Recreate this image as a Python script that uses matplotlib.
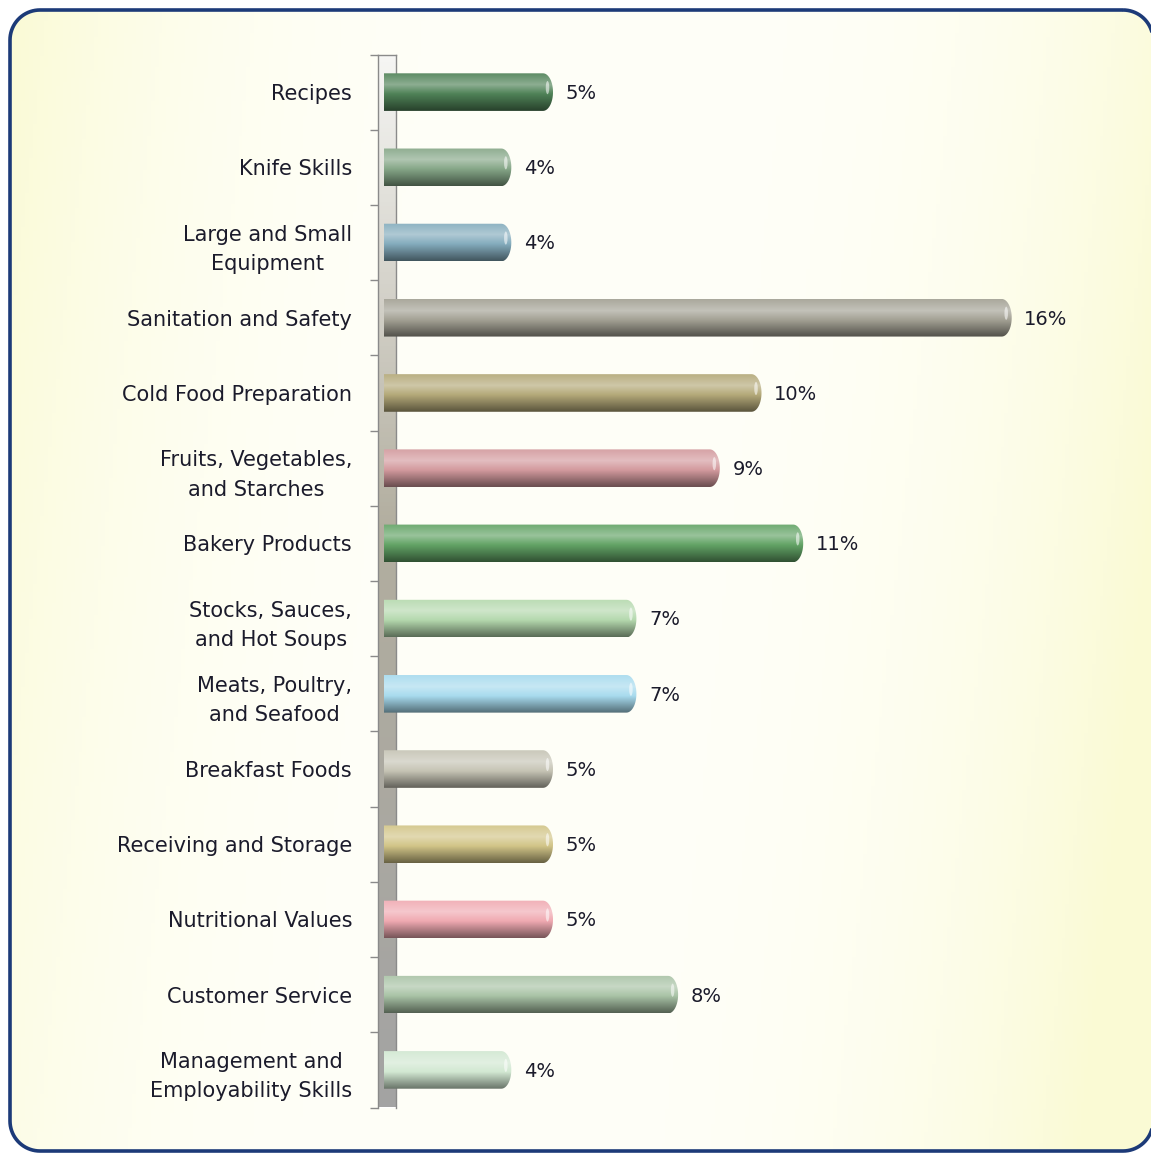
import numpy as np
import matplotlib.pyplot as plt
from matplotlib.path import Path
from matplotlib.patches import PathPatch, Ellipse
from matplotlib.colors import to_rgb

categories = [
    "Recipes",
    "Knife Skills",
    "Large and Small\nEquipment",
    "Sanitation and Safety",
    "Cold Food Preparation",
    "Fruits, Vegetables,\nand Starches",
    "Bakery Products",
    "Stocks, Sauces,\nand Hot Soups",
    "Meats, Poultry,\nand Seafood",
    "Breakfast Foods",
    "Receiving and Storage",
    "Nutritional Values",
    "Customer Service",
    "Management and\nEmployability Skills",
]
values = [5, 4, 4, 16, 10, 9, 11, 7, 7, 5, 5, 5, 8, 4]
bar_colors = [
    "#4f8257", "#86a788", "#84acbd", "#a3a194", "#b4a979", "#d39a9e", "#62a365",
    "#b5d9ae", "#a8dbee", "#c6c4b5", "#d2c588", "#f0aab2", "#a9c3a6", "#d2e8d2",
]

W, H = 1151, 1153
fig = plt.figure(figsize=(W / 100, H / 100), dpi=100)


def rounded_rect(x0, y0, x1, y1, rad):
    # rounded rectangle in pixel coords (y down)
    verts = []
    corners = [(x1 - rad, y0 + rad, -90, 0), (x1 - rad, y1 - rad, 0, 90),
               (x0 + rad, y1 - rad, 90, 180), (x0 + rad, y0 + rad, 180, 270)]
    for cx, cy, a0, a1 in corners:
        for a in np.radians(np.linspace(a0, a1, 20)):
            verts.append((cx + rad * np.cos(a), cy + rad * np.sin(a)))
    verts.append(verts[0])
    codes = [Path.MOVETO] + [Path.LINETO] * (len(verts) - 2) + [Path.CLOSEPOLY]
    return Path(verts, codes)


# background with rounded border
bg = fig.add_axes([0, 0, 1, 1])
bg.axis("off")
gx = np.linspace(0, 1, 300)
gy = np.linspace(0, 1, 300)
GX, GY = np.meshgrid(gx, gy)
yel = np.array(to_rgb("#fafad4"))
wht = np.array(to_rgb("#fffff8"))
t = np.clip(np.abs((GX * 0.9 + GY * 0.1) - 0.47) * 2.1, 0, 1) ** 3
img = wht[None, None, :] * (1 - t[..., None]) + yel[None, None, :] * t[..., None]
im = bg.imshow(img, extent=(10, 1153, 1151, 10), aspect="auto", zorder=1)
frame = PathPatch(rounded_rect(10, 10, 1153, 1151, 30), facecolor="none",
                  edgecolor="#1c3a78", lw=2.6, zorder=5)
bg.add_patch(frame)
im.set_clip_path(frame)
bg.set_xlim(0, W)
bg.set_ylim(H, 0)

# geometry
px_per = 41.7
ax_left_px, ax_right_px = 384, 1100
top_px, bot_px = 54.5, 1107.5
x_lo = 0.947
x_hi = x_lo + (ax_right_px - ax_left_px) / px_per
n = len(categories)
rect = [ax_left_px / W, (H - bot_px) / H, (ax_right_px - ax_left_px) / W, (bot_px - top_px) / H]

# the 3D wall
wall = fig.add_axes([378 / W, rect[1], 18 / W, rect[3]], zorder=2)
wy = np.linspace(0, 1, 256)
c_top = np.array(to_rgb("#f6f6f4"))
c_mid = np.array(to_rgb("#b2ae9f"))
c_bot = np.array(to_rgb("#a3a3a3"))
wc = np.where(wy[:, None] < 0.45,
              c_top * (1 - wy[:, None] / 0.45) + c_mid * (wy[:, None] / 0.45),
              c_mid * (1 - (wy[:, None] - 0.45) / 0.55) + c_bot * ((wy[:, None] - 0.45) / 0.55))
wall.imshow(wc[:, None, :], extent=(0, 1, n - 0.5, -0.5), aspect="auto")
wall.set_xlim(0, 1)
wall.set_ylim(n - 0.5, -0.5)
wall.set_xticks([])
wall.set_yticks(np.arange(n + 1) - 0.5)
wall.set_yticklabels([])
wall.tick_params(axis="y", length=6, width=1, color="#8a8a8a", direction="out")
for s in wall.spines.values():
    s.set_color("#8a8a8a")
    s.set_linewidth(1)
wall.spines["bottom"].set_visible(False)

ax = fig.add_axes(rect, zorder=3)
ax.patch.set_alpha(0)
y = np.arange(n)
bars = ax.barh(y, values, height=0.5, color="none", edgecolor="none")
for s in ax.spines.values():
    s.set_visible(False)
ax.set_xticks([])
ax.set_yticks(y)
ax.set_yticklabels(categories, fontsize=15, color="#1b1b2b", multialignment="center",
                   linespacing=1.6, family=["DejaVu Sans"])
ax.tick_params(axis="y", length=0, pad=23)

prof = np.linspace(0, 1, 64)


def shade(c):
    c = np.array(to_rgb(c))
    out = []
    for p in prof:
        if p < 0.3:
            k = 0.08 + (p / 0.3) * 0.27
            col = c + (1 - c) * k
        elif p < 0.55:
            k = 0.35 * (1 - (p - 0.3) / 0.25)
            col = c + (1 - c) * k
        else:
            k = 0.5 * (p - 0.55) / 0.45
            col = c * (1 - k)
        out.append(col)
    return np.array(out)


r = 10 / px_per
theta = np.linspace(np.pi / 2, -np.pi / 2, 30)
for b, c, v in zip(bars, bar_colors, values):
    x0 = b.get_x()
    x1 = x0 + b.get_width()
    yt = b.get_y()
    hh = b.get_height()
    yb = yt + hh
    yc = yt + hh / 2
    verts = [(x0, yb), (x0, yt), (x1 - r, yt)]
    verts += [(x1 - r + r * np.cos(tt), yc - (hh / 2) * np.sin(tt)) for tt in theta]
    verts += [(x0, yb), (x0, yb)]
    codes = [Path.MOVETO] + [Path.LINETO] * (len(verts) - 2) + [Path.CLOSEPOLY]
    shape = PathPatch(Path(verts, codes), facecolor="none", edgecolor="none")
    ax.add_patch(shape)
    grad = shade(c)
    bim = ax.imshow(grad[:, None, :], extent=(x0, x1, yb, yt), aspect="auto", zorder=2)
    bim.set_clip_path(shape)
    # glint on the rounded end
    ax.add_patch(Ellipse((x1 - r * 0.55, yc - hh * 0.12), r * 0.35, hh * 0.35,
                         facecolor="white", edgecolor="none", alpha=0.55, zorder=3))
    ax.annotate(f"{v}%", (x1, yc), xytext=(9, -1), textcoords="offset points",
                va="center", ha="left", fontsize=14, color="#1b1b2b")

ax.set_xlim(x_lo, x_hi)
ax.set_ylim(n - 0.5, -0.5)

fig.savefig("out.png", dpi=100)
